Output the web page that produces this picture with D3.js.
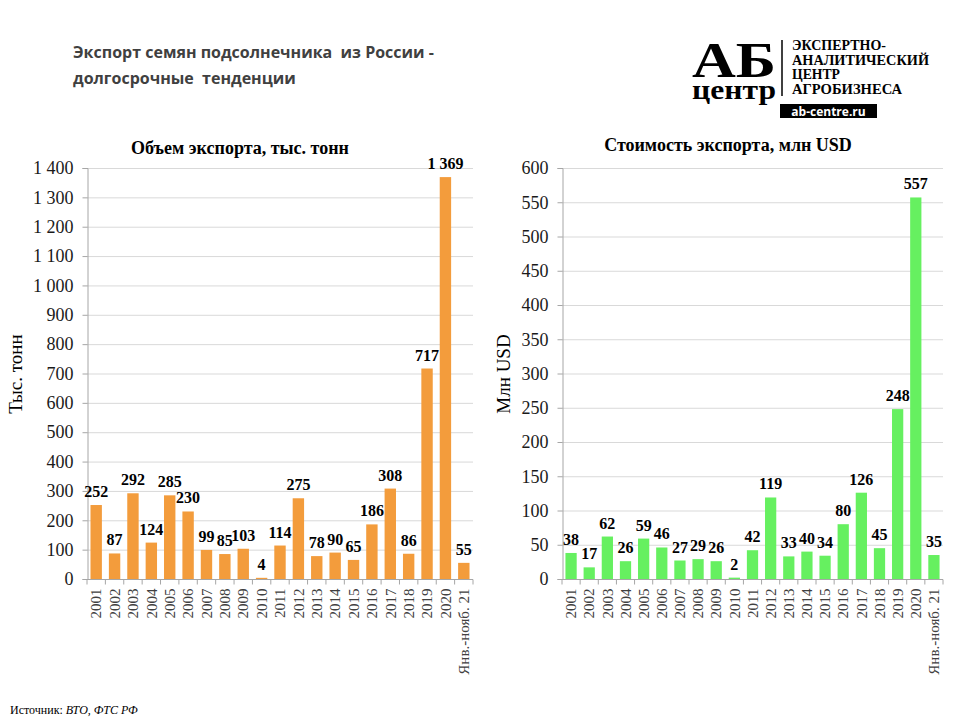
<!DOCTYPE html>
<html><head><meta charset="utf-8">
<script src="https://cdn.jsdelivr.net/npm/d3@7"></script>
<style>body{margin:0;background:#fff}svg{display:block}</style>
</head><body>
<script>
const categories = ["2001","2002","2003","2004","2005","2006","2007","2008","2009","2010","2011","2012","2013","2014","2015","2016","2017","2018","2019","2020","Янв.-нояб. 21"];
const volume = [252,87,292,124,285,230,99,85,103,4,114,275,78,90,65,186,308,86,717,1369,55];
const value = [38,17,62,26,59,46,27,29,26,2,42,119,33,40,34,80,126,45,248,557,35];
const volumeTicks = [0,100,200,300,400,500,600,700,800,900,1000,1100,1200,1300,1400];
const valueTicks = [0,50,100,150,200,250,300,350,400,450,500,550,600];

const W=960,H=720;
const svg=d3.select("body").append("svg").attr("width",W).attr("height",H);
const serif="Liberation Serif, Times New Roman, serif";
const sans="Open Sans, Noto Sans, sans-serif";

// Main title
svg.append("text").attr("x",73).attr("y",58).attr("font-family",sans).attr("font-weight","bold")
  .attr("font-size",16).attr("fill","#404040").style("white-space","pre").text("Экспорт семян подсолнечника  из России -");
svg.append("text").attr("x",73).attr("y",84).attr("font-family",sans).attr("font-weight","bold")
  .attr("font-size",16).attr("fill","#404040").style("white-space","pre").text("долгосрочные  тенденции");

// Logo
const logo=svg.append("g");
logo.append("text").attr("x",692).attr("y",77).attr("font-family",serif).attr("font-weight","bold")
  .attr("font-size",50).attr("textLength",84).attr("lengthAdjust","spacingAndGlyphs").text("АБ");
logo.append("text").attr("x",692).attr("y",99).attr("font-family",serif).attr("font-weight","bold")
  .attr("font-size",27).attr("textLength",84).attr("lengthAdjust","spacingAndGlyphs").text("центр");
logo.append("line").attr("x1",782).attr("x2",782).attr("y1",40).attr("y2",96).attr("stroke","#000").attr("stroke-width",1.5);
const logoLines=["ЭКСПЕРТНО-","АНАЛИТИЧЕСКИЙ","ЦЕНТР","АГРОБИЗНЕСА"];
const logoLens=[94,137,48,110];
logoLines.forEach((t,i)=>{
  logo.append("text").attr("x",792).attr("y",50+i*14.5).attr("font-family",serif).attr("font-weight","bold")
    .attr("font-size",14).attr("textLength",logoLens[i]).attr("lengthAdjust","spacingAndGlyphs").text(t);
});
logo.append("rect").attr("x",780).attr("y",104).attr("width",97).attr("height",14).attr("fill","#000");
logo.append("text").attr("x",828.5).attr("y",115.5).attr("text-anchor","middle").attr("font-family",sans)
  .attr("font-weight","bold").attr("font-size",12).attr("fill","#fff").text("ab-centre.ru");

function chart(opts){
  const {x0,x1,y0,y1,data,ticks,max,color,title,titleX,titleY,ylabel,ylabelX,fmt,labelOff}=opts;
  const x=d3.scaleBand().domain(categories).range([x0,x1]).paddingInner(0.38).paddingOuter(0.19);
  const y=d3.scaleLinear().domain([0,max]).range([y0,y1]);
  const g=svg.append("g");
  g.append("g").selectAll("line").data(ticks.filter(t=>t>0)).join("line")
    .attr("x1",x0).attr("x2",x1).attr("y1",d=>y(d)+0.5).attr("y2",d=>y(d)+0.5)
    .attr("stroke","#d9d9d9").attr("stroke-width",1);
  const ya=g.append("g").attr("transform",`translate(${x0+0.5},0)`)
    .call(d3.axisLeft(y).tickValues(ticks).tickFormat(fmt).tickSize(5).tickPadding(9));
  ya.select(".domain").attr("stroke","#a6a6a6");
  ya.selectAll(".tick line").attr("stroke","#a6a6a6");
  ya.selectAll(".tick text").attr("font-family",serif).attr("font-size",18).attr("fill","#1a1a1a");
  g.append("g").selectAll("rect").data(data).join("rect")
    .attr("x",(d,i)=>x(categories[i])).attr("width",x.bandwidth())
    .attr("y",d=>y(d)).attr("height",d=>y0-y(d)).attr("fill",color);
  const xa=g.append("g").attr("transform",`translate(0,${y0+0.5})`)
    .call(d3.axisBottom(x).tickSize(0).tickPadding(4));
  xa.select(".domain").attr("stroke","#a6a6a6").attr("d",`M${x0},0H${x1}`);
  xa.selectAll(".tick text").attr("font-family",serif).attr("font-size",15).attr("fill","#404040")
    .attr("text-anchor","end").attr("dy","0.35em").attr("transform","translate(0,9) rotate(-90)").attr("x",0).attr("y",0);
  const seps=d3.range(categories.length+1).map(i=>x0+i*(x1-x0)/categories.length);
  xa.append("g").selectAll("line").data(seps).join("line")
    .attr("x1",d=>d).attr("x2",d=>d).attr("y1",0).attr("y2",5).attr("stroke","#a6a6a6");
  g.append("g").selectAll("text").data(data).join("text")
    .attr("x",(d,i)=>x(categories[i])+x.bandwidth()/2).attr("y",d=>y(d)-labelOff)
    .attr("text-anchor","middle").attr("font-family",serif).attr("font-weight","bold").attr("font-size",16)
    .attr("fill","#000").text(d=>fmt(d));
  svg.append("text").attr("x",titleX).attr("y",titleY).attr("text-anchor","middle").attr("font-family",serif)
    .attr("font-weight","bold").attr("font-size",18).text(title);
  svg.append("text").attr("transform",`translate(${ylabelX},374) rotate(-90)`).attr("text-anchor","middle")
    .attr("font-family",serif).attr("font-size",19).text(ylabel);
}
const spaceFmt=d=>d3.format(",")(d).replace(/,/g," ");
chart({x0:87,x1:473,y0:579,y1:168,data:volume,ticks:volumeTicks,max:1400,color:"#F39C3C",
  title:"Объем экспорта, тыс. тонн",titleX:240,titleY:154,ylabel:"Тыс. тонн",ylabelX:22,fmt:spaceFmt,labelOff:8});
chart({x0:562,x1:943,y0:579,y1:168,data:value,ticks:valueTicks,max:600,color:"#66F060",
  title:"Стоимость экспорта, млн USD",titleX:728,titleY:151,ylabel:"Млн USD",ylabelX:510,fmt:spaceFmt,labelOff:8});

const src=svg.append("text").attr("x",10).attr("y",714).attr("font-family",serif).attr("font-size",12);
src.append("tspan").text("Источник: ");
src.append("tspan").attr("font-style","italic").text("ВТО, ФТС РФ");
</script>
</body></html>
